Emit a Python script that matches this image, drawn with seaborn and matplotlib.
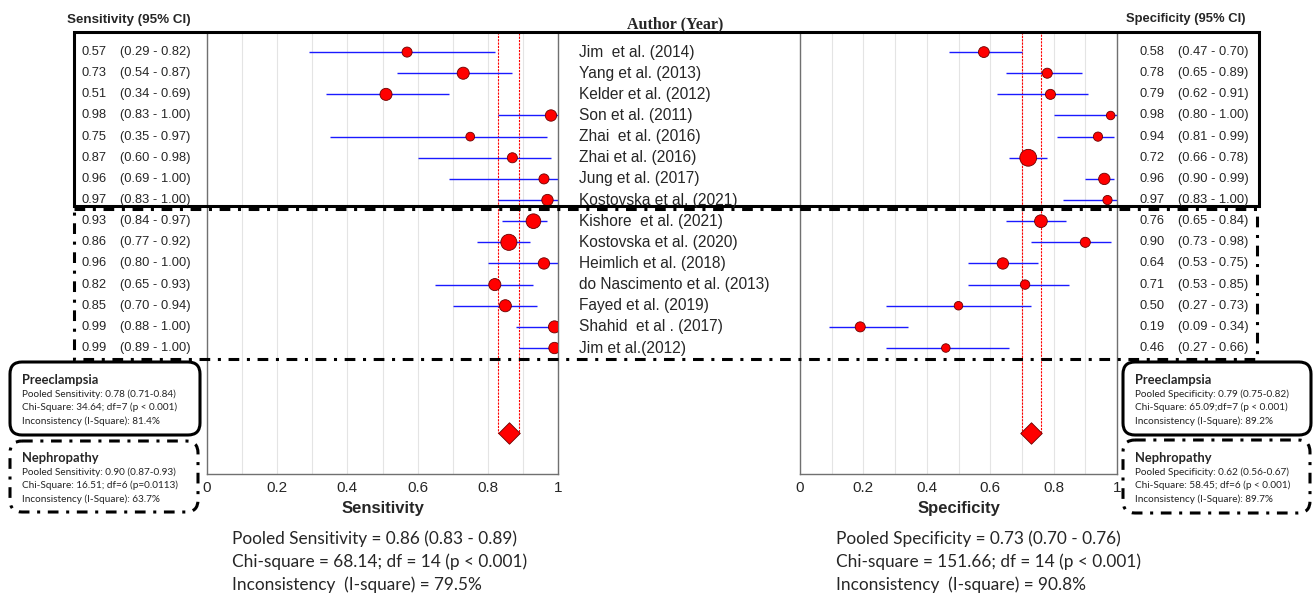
import numpy as np
import pandas as pd
import matplotlib
matplotlib.use("Agg")
import matplotlib.pyplot as plt
import matplotlib.transforms as mtransforms
from matplotlib.patches import Rectangle, FancyBboxPatch
import seaborn as sns

# study data
authors = ["Jim  et al. (2014)", "Yang et al. (2013)", "Kelder et al. (2012)",
           "Son et al. (2011)", "Zhai  et al. (2016)", "Zhai et al. (2016)",
           "Jung et al. (2017)", "Kostovska et al. (2021)", "Kishore  et al. (2021)",
           "Kostovska et al. (2020)", "Heimlich et al. (2018)",
           "do Nascimento et al. (2013)", "Fayed et al. (2019)",
           "Shahid  et al . (2017)", "Jim et al.(2012)"]
sens = [0.57, 0.73, 0.51, 0.98, 0.75, 0.87, 0.96, 0.97, 0.93, 0.86, 0.96, 0.82, 0.85, 0.99, 0.99]
sens_lo = [0.29, 0.54, 0.34, 0.83, 0.35, 0.60, 0.69, 0.83, 0.84, 0.77, 0.80, 0.65, 0.70, 0.88, 0.89]
sens_hi = [0.82, 0.87, 0.69, 1.00, 0.97, 0.98, 1.00, 1.00, 0.97, 0.92, 1.00, 0.93, 0.94, 1.00, 1.00]
spec = [0.58, 0.78, 0.79, 0.98, 0.94, 0.72, 0.96, 0.97, 0.76, 0.90, 0.64, 0.71, 0.50, 0.19, 0.46]
spec_lo = [0.47, 0.65, 0.62, 0.80, 0.81, 0.66, 0.90, 0.83, 0.65, 0.73, 0.53, 0.53, 0.27, 0.09, 0.27]
spec_hi = [0.70, 0.89, 0.91, 1.00, 0.99, 0.78, 0.99, 1.00, 0.84, 0.98, 0.75, 0.85, 0.73, 0.34, 0.66]
# relative study weights (marker area)
sens_weight = [25, 36, 36, 32, 19, 25, 25, 32, 53, 64, 32, 36, 36, 36, 32]
spec_weight = [29, 25, 25, 18, 21, 70, 32, 21, 40, 25, 32, 22, 18, 25, 18]

pooled_sens = (0.86, 0.83, 0.89)
pooled_spec = (0.73, 0.70, 0.76)

sens_stats = ["Pooled Sensitivity = 0.86 (0.83 - 0.89)",
              "Chi-square = 68.14; df = 14 (p < 0.001)",
              "Inconsistency  (I-square) = 79.5%"]
spec_stats = ["Pooled Specificity = 0.73 (0.70 - 0.76)",
              "Chi-square = 151.66; df = 14 (p < 0.001)",
              "Inconsistency  (I-square) = 90.8%"]
sub_sens = [("Preeclampsia", ["Pooled Sensitivity: 0.78 (0.71-0.84)",
                              "Chi-Square: 34.64; df=7 (p < 0.001)",
                              "Inconsistency (I-Square): 81.4%"]),
            ("Nephropathy", ["Pooled Sensitivity: 0.90 (0.87-0.93)",
                             "Chi-Square: 16.51; df=6 (p=0.0113)",
                             "Inconsistency (I-Square): 63.7%"])]
sub_spec = [("Preeclampsia", ["Pooled Specificity: 0.79 (0.75-0.82)",
                              "Chi-Square: 65.09;df=7 (p < 0.001)",
                              "Inconsistency (I-Square): 89.2%"]),
            ("Nephropathy", ["Pooled Specificity: 0.62 (0.56-0.67)",
                             "Chi-Square: 58.45; df=6 (p < 0.001)",
                             "Inconsistency (I-Square): 89.7%"])]

df = pd.DataFrame({"author": authors, "sens": sens, "sens_lo": sens_lo, "sens_hi": sens_hi,
                   "spec": spec, "spec_lo": spec_lo, "spec_hi": spec_hi,
                   "sens_w": sens_weight, "spec_w": spec_weight})
df["row"] = np.arange(len(df))
pooled_row = 18

sns.set_style("white")
NARROW = ["Liberation Sans Narrow", "Liberation Sans", "DejaVu Sans"]
CAL = ["Lato", "DejaVu Sans"]
plt.rcParams["font.family"] = NARROW

W, H = 1314, 599
fig = plt.figure(figsize=(W / 100, H / 100), dpi=100)


def px_axes(x0, x1, y0, y1):
    return fig.add_axes([x0 / W, 1 - y1 / H, (x1 - x0) / W, (y1 - y0) / H])


ax_s = px_axes(207, 558, 32, 474)
ax_p = px_axes(800, 1117, 32, 474)


def forest(ax, col, lo, hi, wcol, pooled, label):
    ax.hlines(df["row"], df[lo], df[hi], color="#1a1aff", lw=1.0, zorder=2)
    wmin, wmax = df[wcol].min(), df[wcol].max()
    sns.scatterplot(data=df, x=col, y="row", size=wcol, sizes=(wmin * 2.1, wmax * 2.1),
                    size_norm=(wmin, wmax), color="red", edgecolor="#6b0000",
                    linewidth=0.6, legend=False, ax=ax, zorder=3)
    est, plo, phi = pooled
    ytop = -0.95
    ax.plot([plo, plo, phi, phi], [ytop, pooled_row, pooled_row, ytop],
            color="red", lw=0.8, ls=(0, (2, 1)), zorder=1)
    sns.scatterplot(x=[est], y=[pooled_row], marker="D", s=120, color="red",
                    edgecolor="#6b0000", linewidth=0.6, ax=ax, zorder=4)
    ax.set_xlim(0, 1)
    ax.set_ylim(19.96, ytop)
    ax.set_xticks(np.arange(0, 1.01, 0.2))
    ax.set_xticklabels(["0", "0.2", "0.4", "0.6", "0.8", "1"], fontsize=11)
    ax.set_xticks(np.arange(0.1, 1.0, 0.2), minor=True)
    ax.set_yticks([])
    ax.grid(True, axis="x", which="both", color="#e4e4e4", lw=0.8)
    ax.tick_params(axis="x", which="both", length=0, pad=5)
    ax.set_xlabel(label, fontsize=12, fontweight="bold", labelpad=4)
    ax.set_ylabel("")
    for side in ["left", "right", "bottom"]:
        ax.spines[side].set_color("#707070")
        ax.spines[side].set_linewidth(1.0)
    ax.spines["top"].set_visible(False)


forest(ax_s, "sens", "sens_lo", "sens_hi", "sens_w", pooled_sens, "Sensitivity")
forest(ax_p, "spec", "spec_lo", "spec_hi", "spec_w", pooled_spec, "Specificity")

# overlay in pixel units for boxes and side text
ov = fig.add_axes([0, 0, 1, 1], zorder=10)
ov.set_xlim(0, W)
ov.set_ylim(H, 0)
ov.axis("off")
ov.patch.set_alpha(0)

row_tf = mtransforms.blended_transform_factory(ov.transData, ax_s.transData)
for r in df.itertuples():
    ov.text(81, r.row, f"{r.sens:.2f}", transform=row_tf, fontsize=9.3, va="center")
    ov.text(120, r.row, f"({r.sens_lo:.2f} - {r.sens_hi:.2f})", transform=row_tf,
            fontsize=9.3, va="center")
    ov.text(579, r.row, r.author, transform=row_tf, fontsize=11.2, va="center")
    ov.text(1139, r.row, f"{r.spec:.2f}", transform=row_tf, fontsize=9.3, va="center")
    ov.text(1178, r.row, f"({r.spec_lo:.2f} - {r.spec_hi:.2f})", transform=row_tf,
            fontsize=9.3, va="center")

ov.text(67, 20, "Sensitivity (95% CI)", fontsize=9.6, fontweight="bold", va="center")
ov.text(1126, 19, "Specificity (95% CI)", fontsize=9.4, fontweight="bold", va="center")
ov.text(675, 24, "Author (Year)", fontsize=11.5, fontweight="bold", va="center", ha="center",
        family=["Liberation Serif", "DejaVu Serif"])

dashdot = (0, (3.5, 2.5, 1, 2.5))
ov.add_patch(Rectangle((74, 32), 1185, 174, fill=False, lw=2.2, ec="black"))
ov.add_patch(Rectangle((74, 209), 1183, 150, fill=False, lw=2.2, ec="black", ls=dashdot))


def sub_box(x, y, w, h, style, title, lines, ty, ly):
    ov.add_patch(FancyBboxPatch((x, y), w, h, boxstyle="round,pad=0,rounding_size=12",
                                fc="white", ec="black", lw=2.2, ls=style))
    ov.text(x + 12, ty, title, fontsize=9.3, fontweight="bold", va="center", family=CAL)
    for i, t in enumerate(lines):
        ov.text(x + 12, ly + i * 13.5, t, fontsize=7.2, va="center", family=CAL,
                color="#222222")


sub_box(10, 362, 190, 73, "-", sub_sens[0][0], sub_sens[0][1], 380, 394)
sub_box(10, 441, 188, 71, dashdot, sub_sens[1][0], sub_sens[1][1], 458, 472)
sub_box(1123, 362, 188, 73, "-", sub_spec[0][0], sub_spec[0][1], 380, 394)
sub_box(1123, 440, 187, 73, dashdot, sub_spec[1][0], sub_spec[1][1], 458, 472)

for i, t in enumerate(sens_stats):
    ov.text(232, 539 + i * 23, t, fontsize=12.4, va="center", family=CAL)
for i, t in enumerate(spec_stats):
    ov.text(836, 539 + i * 23, t, fontsize=12.4, va="center", family=CAL)

fig.savefig("out.png", dpi=100)
